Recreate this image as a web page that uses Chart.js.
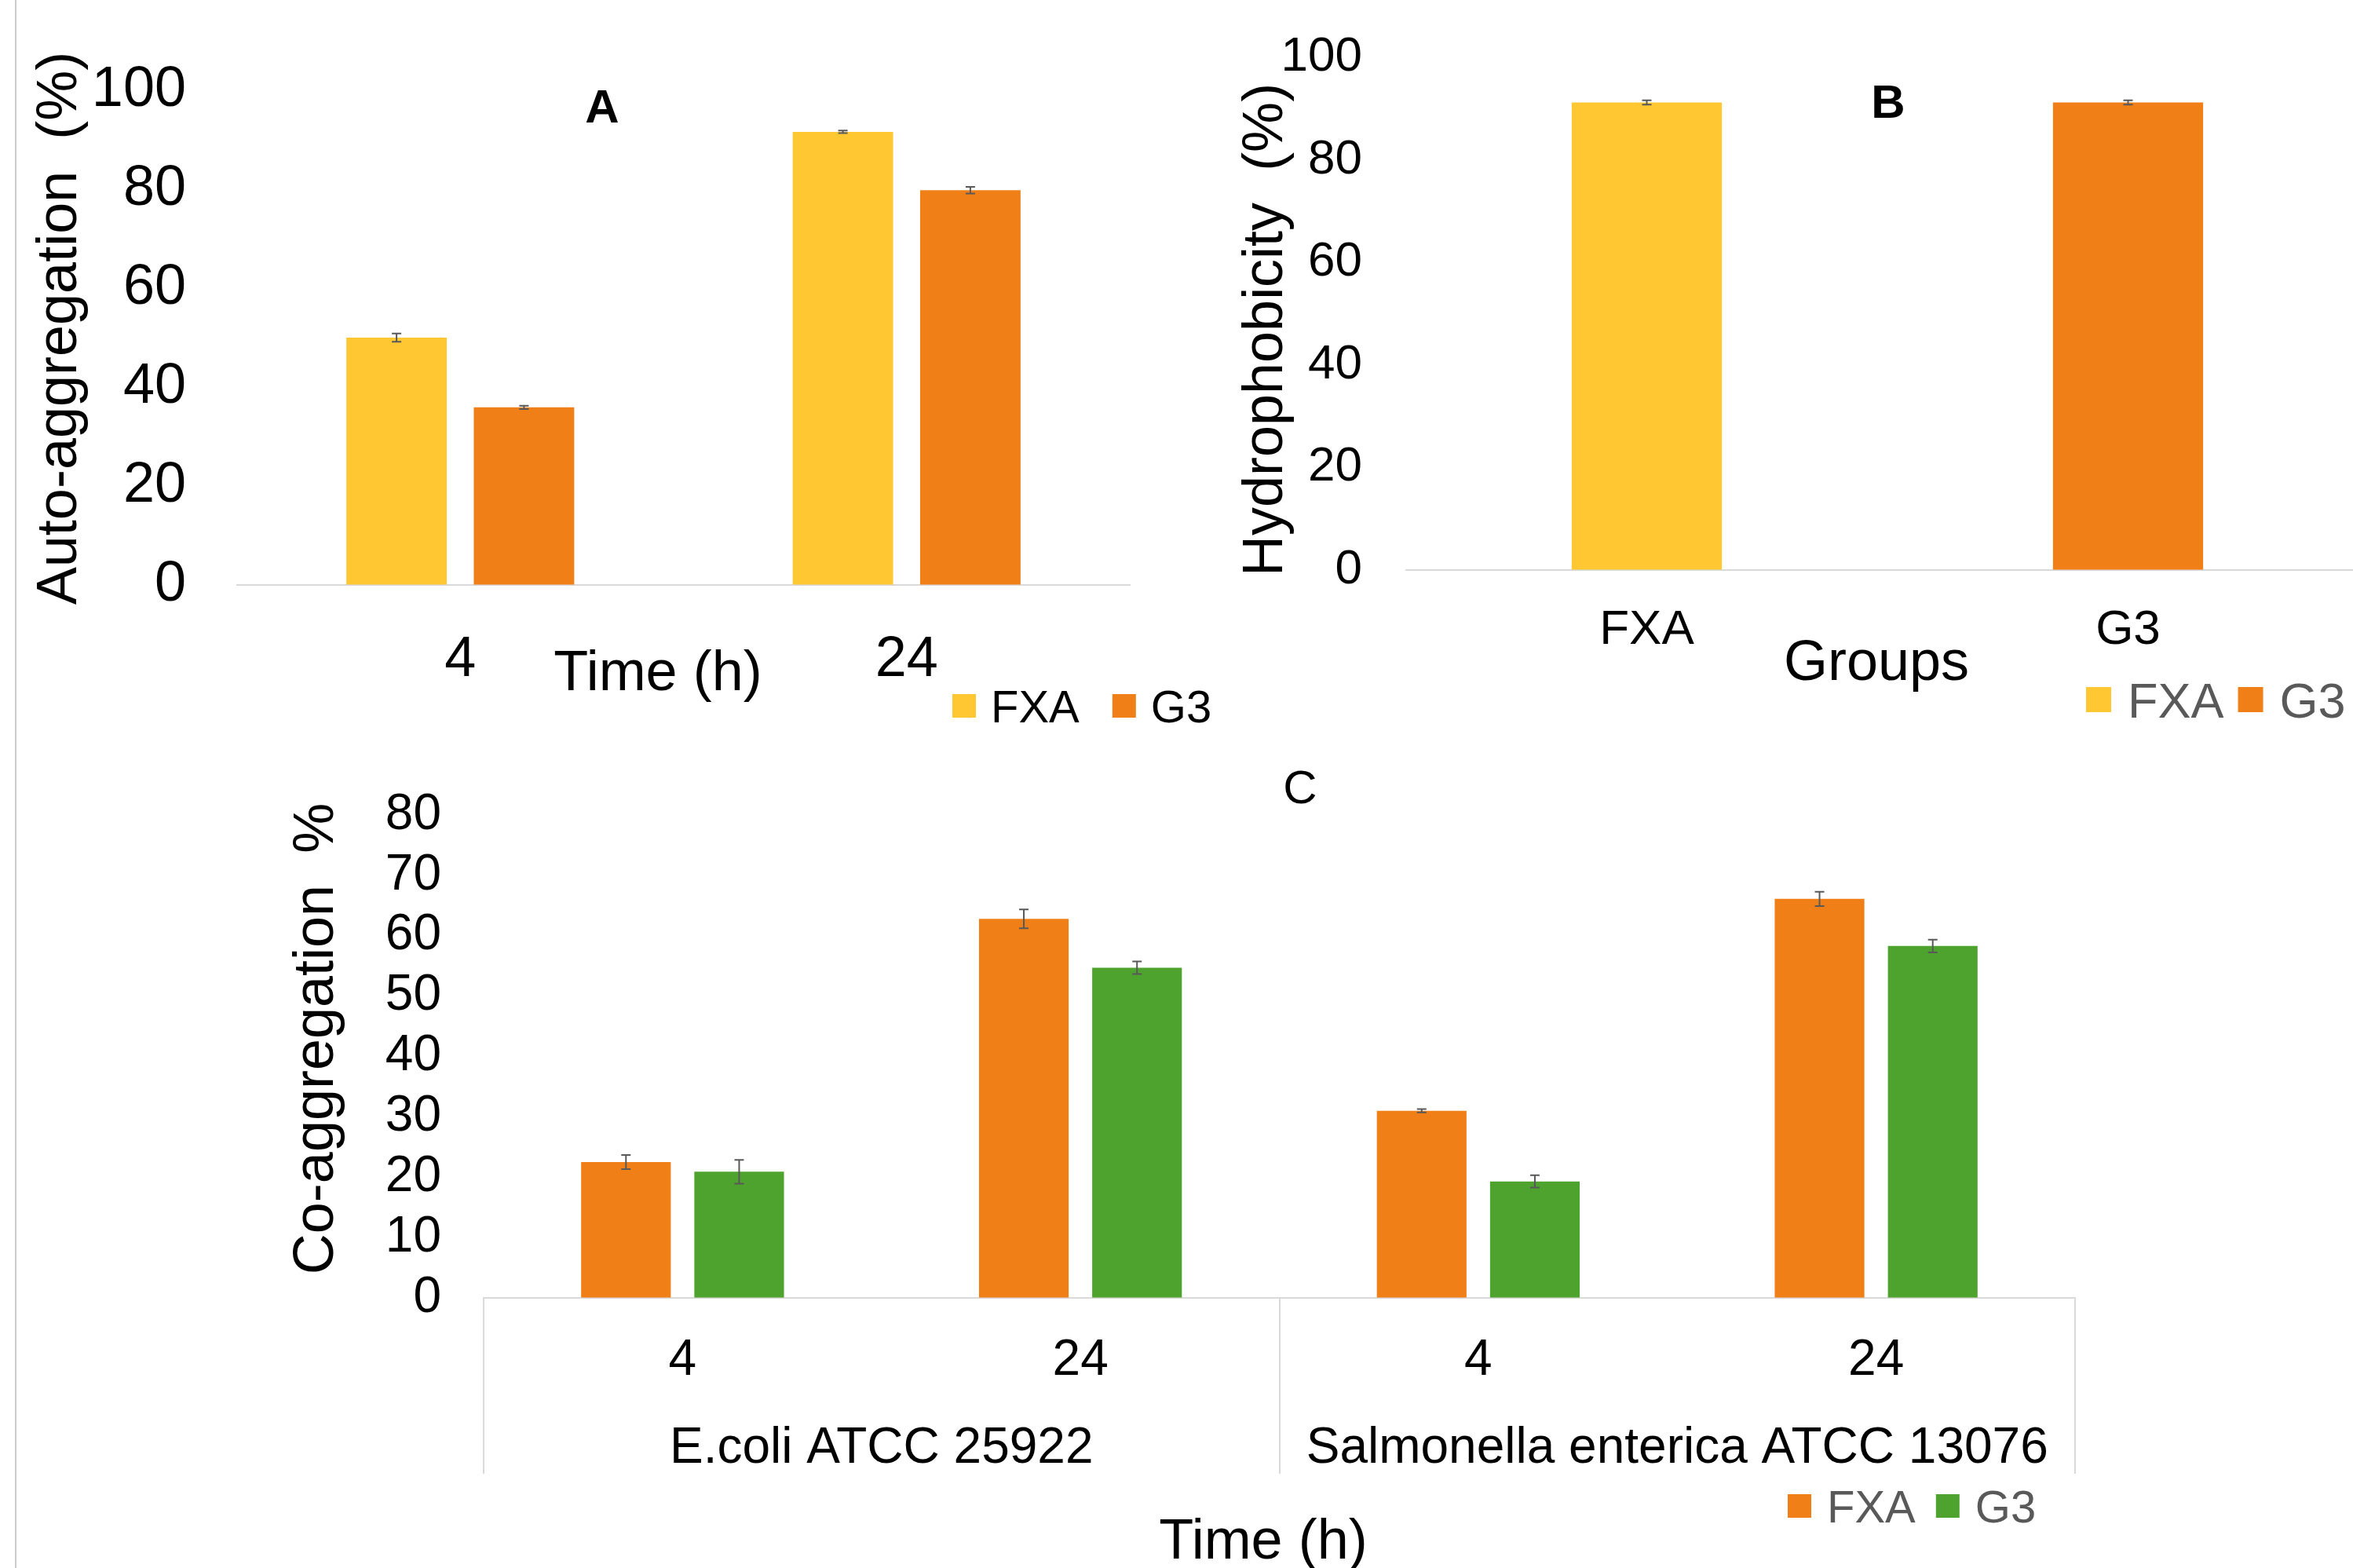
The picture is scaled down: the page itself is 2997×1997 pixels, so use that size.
<!DOCTYPE html>
<html>
<head>
<meta charset="utf-8">
<script src="https://cdn.jsdelivr.net/npm/chart.js@4.4.1/dist/chart.umd.min.js"></script>
<style>
  html, body { margin: 0; padding: 0; background: #fff; }
  body { width: 2997px; height: 1997px; position: relative; overflow: hidden; }
  canvas { position: absolute; }
  #edge { position: absolute; left: 19px; top: 0; width: 2px; height: 1997px; background: #cccccc; }
</style>
</head>
<body>
<div id="edge"></div>
<canvas id="panelA" width="1560" height="960" style="left:0;top:0"></canvas>
<canvas id="panelB" width="1500" height="960" style="left:1540px;top:0"></canvas>
<canvas id="panelC" width="2997" height="1037" style="left:0;top:960px"></canvas>
<script>
const FONT = '"Liberation Sans", Arial, Helvetica, sans-serif';

// A: auto-aggregation
const autoTimes = ["4", "24"];
const autoFXA = [50.0, 91.6];
const autoG3 = [35.9, 79.8];
const autoFXAErr = [0.82, 0.25];
const autoG3Err = [0.35, 0.68];

// B: hydrophobicity
const hydroGroups = ["FXA", "G3"];
const hydroFXA = [91.2, null];
const hydroG3 = [null, 91.2];
const hydroFXAErr = [0.42, null];
const hydroG3Err = [null, 0.42];

// C: co-aggregation
const coTimes = ["4", "24", "4", "24"];
const coStrains = ["E.coli ATCC 25922", "Salmonella enterica ATCC 13076"];
const coFXA = [22.5, 62.8, 31.0, 66.1];
const coG3 = [20.9, 54.7, 19.3, 58.3];
const coFXAErr = [1.18, 1.55, 0.27, 1.18];
const coG3Err = [1.96, 1.05, 1.03, 1.05];

const YELLOW = "#FFC832";
const ORANGE = "#EF7F16";
const GREEN = "#4EA32F";
const AXIS = "#D9D9D9";

// error bars from the dataset's errors array
const errorBars = {
  id: "errorBars",
  afterDatasetsDraw(chart) {
    const { ctx } = chart;
    const y = chart.scales.y;
    ctx.save();
    ctx.strokeStyle = "#595959";
    ctx.lineWidth = 2;
    chart.data.datasets.forEach((ds, i) => {
      chart.getDatasetMeta(i).data.forEach((bar, j) => {
        const v = ds.data[j];
        const e = ds.errors ? ds.errors[j] : null;
        if (v == null || e == null) return;
        const top = y.getPixelForValue(v + e);
        const bottom = y.getPixelForValue(v - e);
        ctx.beginPath();
        ctx.moveTo(bar.x, top);
        ctx.lineTo(bar.x, bottom);
        ctx.moveTo(bar.x - 6, top);
        ctx.lineTo(bar.x + 6, top);
        ctx.moveTo(bar.x - 6, bottom);
        ctx.lineTo(bar.x + 6, bottom);
        ctx.stroke();
      });
    });
    ctx.restore();
  }
};

// panel letters, axis titles and the little legend row
const panelText = {
  id: "panelText",
  afterDraw(chart, args, opts) {
    const { ctx } = chart;
    ctx.save();
    ctx.textBaseline = "alphabetic";
    (opts.texts || []).forEach((t) => {
      ctx.font = `${t.weight || "normal"} ${t.size}px ${FONT}`;
      ctx.fillStyle = "#000";
      ctx.textAlign = "center";
      ctx.save();
      ctx.translate(t.x, t.y);
      if (t.rotate) ctx.rotate(-Math.PI / 2);
      ctx.fillText(t.text, 0, 0);
      ctx.restore();
    });
    const lg = opts.legend;
    if (lg) {
      ctx.font = `${lg.size}px ${FONT}`;
      ctx.textAlign = "left";
      let x = lg.x;
      chart.data.datasets.forEach((ds) => {
        ctx.fillStyle = ds.backgroundColor;
        ctx.fillRect(x, lg.y - lg.box / 2, lg.box, lg.box);
        x += lg.box + lg.gap;
        ctx.fillStyle = lg.color;
        ctx.fillText(ds.label, x, lg.y + lg.size * 0.358);
        x += ctx.measureText(ds.label).width + lg.spacing;
      });
    }
    ctx.restore();
  }
};

// vertical separators of the two-level category axis in C
const groupLines = {
  id: "groupLines",
  afterDraw(chart) {
    const s = chart.scales.x2;
    const n = s.getLabels().length;
    const w = s.width / n;
    const { ctx, chartArea } = chart;
    ctx.save();
    ctx.strokeStyle = AXIS;
    ctx.lineWidth = 2;
    for (let k = 0; k <= n; k++) {
      const px = Math.round(s.left + k * w);
      ctx.beginPath();
      ctx.moveTo(px, chartArea.bottom);
      ctx.lineTo(px, s.bottom);
      ctx.stroke();
    }
    ctx.restore();
  }
};

function tickFont(size) {
  return { family: FONT, size };
}

// invisible tick marks keep the gap between labels and plot
// without inflating the top padding the way ticks.padding does
function yGap(len) {
  return { display: true, drawOnChartArea: false, drawTicks: true, tickLength: len, color: "rgba(0,0,0,0)" };
}

new Chart(document.getElementById("panelA"), {
  type: "bar",
  data: {
    labels: autoTimes,
    datasets: [
      { label: "FXA", data: autoFXA, errors: autoFXAErr, backgroundColor: YELLOW },
      { label: "G3", data: autoG3, errors: autoG3Err, backgroundColor: ORANGE }
    ]
  },
  options: {
    responsive: false,
    animation: false,
    layout: { padding: { top: 115, right: 121, left: 0, bottom: 0 } },
    datasets: { bar: { categoryPercentage: 0.571, barPercentage: 0.788 } },
    plugins: {
      legend: { display: false },
      tooltip: { enabled: false },
      panelText: {
        texts: [
          { text: "A", x: 767, y: 156, size: 60, weight: "bold" },
          { text: "Auto-aggregation  (%)", x: 97, y: 418, size: 72, rotate: true },
          { text: "Time (h)", x: 838, y: 879, size: 72 }
        ],
        legend: { x: 1213, y: 899, box: 30, gap: 19, spacing: 42, size: 58, color: "#000" }
      }
    },
    scales: {
      x: {
        grid: { display: false },
        border: { color: AXIS, width: 2 },
        ticks: { color: "#000", font: tickFont(72), padding: 45 },
        afterFit(s) { s.height = 215; }
      },
      y: {
        min: 0,
        max: 100,
        grid: yGap(65),
        border: { display: false },
        ticks: { stepSize: 20, autoSkip: false, color: "#000", font: tickFont(72), padding: 0 },
        afterFit(s) { s.width = 302; }
      }
    }
  },
  plugins: [errorBars, panelText]
});

new Chart(document.getElementById("panelB"), {
  type: "bar",
  data: {
    labels: hydroGroups,
    datasets: [
      { label: "FXA", data: hydroFXA, errors: hydroFXAErr, backgroundColor: YELLOW },
      { label: "G3", data: hydroG3, errors: hydroG3Err, backgroundColor: ORANGE }
    ]
  },
  options: {
    responsive: false,
    animation: false,
    layout: { padding: { top: 73, right: 23, left: 0, bottom: 0 } },
    datasets: { bar: { categoryPercentage: 0.39, barPercentage: 0.8, skipNull: true } },
    plugins: {
      legend: { display: false },
      tooltip: { enabled: false },
      panelText: {
        texts: [
          { text: "B", x: 865, y: 150, size: 60, weight: "bold" },
          { text: "Hydrophobicity  (%)", x: 93, y: 420, size: 72, rotate: true },
          { text: "Groups", x: 850, y: 866, size: 72 }
        ],
        legend: { x: 1117, y: 891, box: 32, gap: 21, spacing: 18, size: 63, color: "#595959" }
      }
    },
    scales: {
      x: {
        grid: { display: false },
        border: { color: AXIS, width: 2 },
        ticks: { color: "#000", font: tickFont(62), padding: 32 },
        afterFit(s) { s.height = 234; }
      },
      y: {
        min: 0,
        max: 100,
        grid: yGap(56),
        border: { display: false },
        ticks: { stepSize: 20, autoSkip: false, color: "#000", font: tickFont(62), padding: 0 },
        afterFit(s) { s.width = 251; }
      }
    }
  },
  plugins: [errorBars, panelText]
});

new Chart(document.getElementById("panelC"), {
  type: "bar",
  data: {
    labels: coTimes,
    datasets: [
      { label: "FXA", data: coFXA, errors: coFXAErr, backgroundColor: ORANGE },
      { label: "G3", data: coG3, errors: coG3Err, backgroundColor: GREEN }
    ]
  },
  options: {
    responsive: false,
    animation: false,
    layout: { padding: { top: 78, right: 354, left: 0, bottom: 120 } },
    datasets: { bar: { categoryPercentage: 0.569, barPercentage: 0.792 } },
    plugins: {
      legend: { display: false },
      tooltip: { enabled: false },
      panelText: {
        texts: [
          { text: "C", x: 1656, y: 63, size: 60 },
          { text: "Co-aggregation  %", x: 424, y: 363, size: 72, rotate: true },
          { text: "Time (h)", x: 1609, y: 1025, size: 72 }
        ],
        legend: { x: 2277, y: 958, box: 30, gap: 20, spacing: 26, size: 58, color: "#595959" }
      }
    },
    scales: {
      x: {
        weight: 0,
        grid: { display: false },
        border: { color: AXIS, width: 2 },
        ticks: { color: "#000", font: tickFont(64), padding: 34 },
        afterFit(s) { s.height = 115; }
      },
      x2: {
        type: "category",
        position: "bottom",
        weight: 1,
        labels: coStrains,
        offset: true,
        grid: { display: false },
        border: { display: false },
        ticks: { color: "#000", font: tickFont(64), padding: 31, autoSkip: false, maxRotation: 0 },
        afterFit(s) { s.height = 109; }
      },
      y: {
        min: 0,
        max: 80,
        grid: yGap(54),
        border: { display: false },
        ticks: { stepSize: 10, autoSkip: false, color: "#000", font: tickFont(64), padding: 0 },
        afterFit(s) { s.width = 616; }
      }
    }
  },
  plugins: [errorBars, panelText, groupLines]
});
</script>
</body>
</html>
